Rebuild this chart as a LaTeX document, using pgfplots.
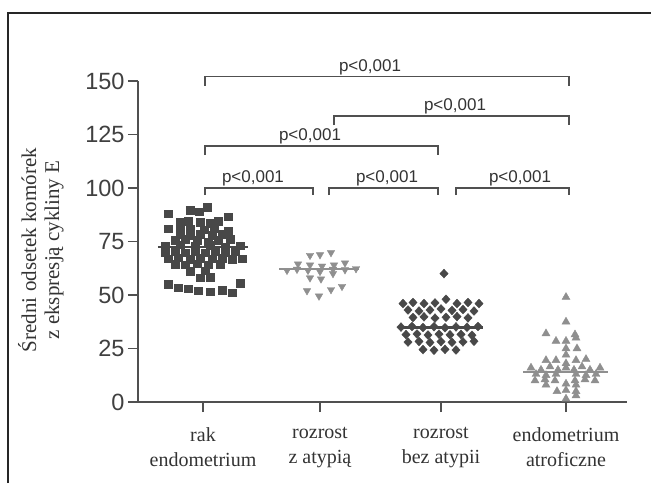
\documentclass[border=0pt]{standalone}
\usepackage{fontspec}
\setmainfont{Liberation Serif}
\newfontfamily\arial{Liberation Sans}
\usepackage{pgfplots}
\pgfplotsset{compat=1.18}
\definecolor{dk}{HTML}{484848}
\definecolor{lt}{HTML}{8F8F8F}
\definecolor{ax}{HTML}{505050}
\begin{document}
\begin{tikzpicture}
\begin{axis}[
 at={(0,0)}, anchor=south west,
 scale only axis, width=489pt, height=321pt,
 xmin=138, xmax=627, ymin=0, ymax=150,
 axis lines=left,
 axis line style={ax, line width=1.5pt, -},
 tick style={ax, line width=1.5pt},
 tick align=outside, major tick length=10pt,
 ytick={0,25,50,75,100,125,150},
 xtick={203,320,441,566},
 xticklabels={{rak\\endometrium},{rozrost\\z atypią},{rozrost\\bez atypii},{endometrium\\atroficzne}},
 x tick label style={align=center, font=\fontsize{20}{25}\selectfont, text=black!80, yshift=-12pt},
 y tick label style={font=\arial\fontsize{23.5}{25}\selectfont, text=black!75},
 /pgf/number format/assume math mode=true,
 clip=false,
]
% group 1: rak endometrium
\addplot[only marks, mark=square*, mark size=3.8pt, color=dk] coordinates {
(207,91)(190,89.5)(199,89)(168,88)(228,86.5)
(180,84)(188,84.5)(200,84)(210,83.5)(218,84.5)
(168,81)(180,81.5)(190,81)(204,80.5)(214,81)(228,80)
(180,78.5)(190,78)(200,78.5)(212,78)(222,78.5)
(175,75.5)(185,76)(197,75.5)(208,75)(218,75.5)(230,76)
(165,73)(180,73.5)(195,72.8)(210,73.2)(225,72.6)(240,73)
(165,70)(175,70.5)(185,69.8)(195,70.2)(205,69.7)(215,70.3)(225,69.9)(235,70.4)
(168,67)(178,67.4)(190,66.8)(200,67.2)(212,66.9)(222,67.3)(232,66.7)(242,67)
(175,64.5)(185,64.2)(197,64.6)(208,64.1)(220,64.4)
(190,61)(205,61.3)(200,58)(210,58.2)
(168,55)(240,55.5)(178,53.5)(188,53)
(198,52)(210,51.5)(222,52.3)(232,51)
};
% group 2: rozrost z atypia
\addplot[only marks, mark=triangle*, mark size=4.3pt, mark options={rotate=180}, color=lt] coordinates {
(310,68.5)(320,68.8)(331,69.8)
(298,64.5)(310,64)(322,63.5)(334,64)(345,65)
(287,61.5)(297,62)(308,61.5)(320,61)(333,62)(345,61.8)(356,62.3)
(310,58)(321,57.5)(333,60)
(307,52)(319,49.5)(331,52.5)(342,54)
};
% group 3: rozrost bez atypii
\addplot[only marks, mark=diamond*, mark size=4.4pt, mark options={xscale=1.25}, color=dk] coordinates {
(444,60)
(403,46)(413,46.5)(424,46)(435,46.3)(446,48)(457,46)(468,46.5)(479,46)
(408,43)(419,42.5)(430,43)(441,43.5)(452,42.8)(463,43.2)(474,42.5)
(413,39.5)(424,39.8)(435,39.2)(446,39.6)(457,39.9)(468,39.3)
(401,35)(412,35.3)(423,34.8)(434,35.2)(445,34.7)(456,35.1)(467,34.9)(478,35.3)
(406,31.5)(417,31.8)(428,31.3)(439,31.7)(450,31.4)(461,31.6)(472,31.2)
(408,28)(419,28.3)(430,27.8)(441,28.2)(452,27.9)(463,28.1)(474,28.4)
(423,24.5)(434,24.2)(445,24.6)(456,24.3)
};
% group 4: endometrium atroficzne
\addplot[only marks, mark=triangle*, mark size=4.6pt, color=lt] coordinates {
(566,49)(566,37.5)
(546,32)(575,31.5)
(556,28.5)(566,28.5)(576,30)
(566,25)(577,25)(566,22)
(546,19.5)(556,19.5)(576,19.5)(586,20)(566,18)
(531,16)(541,15)(550,16.5)(558,15)(566,16)(574,15)(582,16.5)(590,15)(600,16)
(536,13)(546,12.5)(556,13)(576,13)(586,12.5)(596,13)
(535,10)(545,10.5)(555,10)(575,10)(585,10.5)(595,10)
(546,8)(566,8.5)(576,8)
(557,5)(566,5.5)(576,5)
(576,3)(566,1.5)
};
% mean lines
\addplot[no marks, line width=2.6pt, color=dk] coordinates {(158,72.5)(248,72.5)};
\addplot[no marks, line width=2.6pt, color=lt] coordinates {(279,62.2)(359,62.2)};
\addplot[no marks, line width=2.6pt, color=dk] coordinates {(399,34.8)(483,34.8)};
\addplot[no marks, line width=2.6pt, color=lt] coordinates {(523,14)(608,14)};
% brackets
\begin{scope}[ax, line width=1.5pt]
\draw (axis cs:205,147.7) |- (axis cs:569,152) -- (axis cs:569,147.7);
\draw (axis cs:334,129.4) |- (axis cs:569,133.6) -- (axis cs:569,129.4);
\draw (axis cs:205,115.4) |- (axis cs:438,119.6) -- (axis cs:438,115.4);
\draw (axis cs:205,96.7) |- (axis cs:313,100) -- (axis cs:313,96.7);
\draw (axis cs:329,96.7) |- (axis cs:438,100) -- (axis cs:438,96.7);
\draw (axis cs:456,96.7) |- (axis cs:569,100) -- (axis cs:569,96.7);
\end{scope}
\begin{scope}[every node/.style={font=\arial\fontsize{17}{19}\selectfont, anchor=base, text=black!80, inner sep=0pt}]
\node at (axis cs:370,154.6) {p<0,001};
\node at (axis cs:455,136.2) {p<0,001};
\node at (axis cs:310,122.2) {p<0,001};
\node at (axis cs:253,102.6) {p<0,001};
\node at (axis cs:387,102.6) {p<0,001};
\node at (axis cs:520,102.6) {p<0,001};
\end{scope}
\end{axis}
\node[rotate=90, align=center, font=\fontsize{21}{23}\selectfont, text=black!80] at ([shift={(-97pt,152pt)}]current axis.south west) {Średni odsetek komórek\\z ekspresją cykliny E};
\draw[black!85, line width=1.5pt] ([shift={(-130pt,-81pt)}]current axis.south west) -- ([shift={(-130pt,389pt)}]current axis.south west) -- ([shift={(513pt,389pt)}]current axis.south west);
\pgfresetboundingbox
\path[use as bounding box] ([shift={(-138pt,-81pt)}]current axis.south west) rectangle ([shift={(513pt,402pt)}]current axis.south west);
\end{tikzpicture}
\end{document}
